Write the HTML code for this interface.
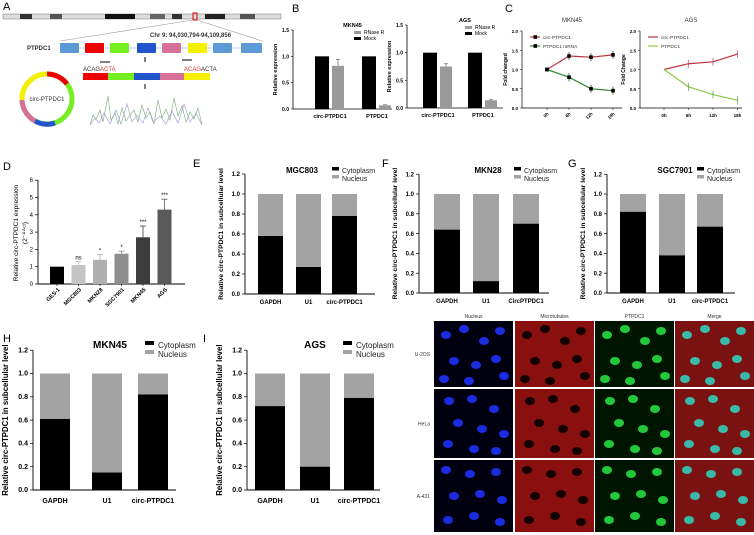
<!DOCTYPE html>
<html><head><meta charset="utf-8">
<style>
html,body{margin:0;padding:0;background:#fff}
svg{display:block;font-family:"Liberation Sans",Arial,sans-serif}
</style></head>
<body>
<svg id="fig" width="754" height="535" viewBox="0 0 754 535">
<g id="panelA">
<text x="3" y="10" font-size="11">A</text>
<rect x="3" y="14" width="278" height="5" fill="#ddd" stroke="#777" stroke-width="0.5"/>
<rect x="20" y="14" width="12" height="5" fill="#333"/><rect x="50" y="14" width="12" height="5" fill="#555"/><rect x="105" y="14" width="30" height="5" fill="#111"/><rect x="150" y="14" width="15" height="5" fill="#666"/><rect x="172" y="14" width="10" height="5" fill="#333"/><rect x="205" y="14" width="20" height="5" fill="#222"/><rect x="240" y="14" width="15" height="5" fill="#555"/>
<rect x="193" y="13" width="4" height="7" fill="none" stroke="#d00" stroke-width="1"/>
<line x1="60" y1="41" x2="193" y2="20" stroke="#999" stroke-width="0.6"/><line x1="262" y1="41" x2="197" y2="20" stroke="#999" stroke-width="0.6"/>
<text x="150" y="37" font-size="6" font-weight="bold" fill="#333">Chr 9: 94,030,794-94,109,856</text>
<text x="27" y="50" font-size="6" font-weight="bold" fill="#333">PTPDC1</text>
<line x1="60" y1="48" x2="262" y2="48" stroke="#6af" stroke-width="0.6"/>
<rect x="60" y="43" width="19" height="10" fill="#5b9bd5" rx="1"/><rect x="85" y="43" width="19" height="10" fill="#e00" rx="1"/><rect x="110" y="43" width="19" height="10" fill="#7e2" rx="1"/><rect x="137" y="43" width="19" height="10" fill="#2255cc" rx="1"/><rect x="162" y="43" width="19" height="10" fill="#d6709a" rx="1"/><rect x="188" y="43" width="19" height="10" fill="#f5ef00" rx="1"/><rect x="213" y="43" width="19" height="10" fill="#5b9bd5" rx="1"/><rect x="241" y="43" width="21" height="10" fill="#5b9bd5" rx="1"/>
<text x="83" y="71" font-size="6" fill="#333">ACAG<tspan fill="#d33">ACTA</tspan></text>
<text x="184" y="71" font-size="6" fill="#d33">ACAG<tspan fill="#333">ACTA</tspan></text>
<rect x="83" y="73" width="25" height="7" fill="#e00"/><rect x="108" y="73" width="26" height="7" fill="#7e2"/><rect x="134" y="73" width="26" height="7" fill="#2255cc"/><rect x="160" y="73" width="24" height="7" fill="#d6709a"/><rect x="184" y="73" width="26" height="7" fill="#f5ef00"/>
<line x1="100" y1="62" x2="110" y2="62" stroke="#000"/><line x1="182" y1="60" x2="192" y2="60" stroke="#000"/><line x1="145" y1="57" x2="145" y2="62" stroke="#000"/><line x1="145" y1="84" x2="145" y2="89" stroke="#000"/>
<circle cx="47" cy="99" r="25" fill="none" stroke="#7e2" stroke-width="5"/>
<path d="M 47 74 A 25 25 0 0 1 67 84" fill="none" stroke="#e00" stroke-width="5"/>
<path d="M 55 123 A 25 25 0 0 1 35 121" fill="none" stroke="#2255cc" stroke-width="5"/>
<path d="M 35 121 A 25 25 0 0 1 22 100" fill="none" stroke="#d6709a" stroke-width="5"/>
<path d="M 22 100 A 25 25 0 0 1 47 74" fill="none" stroke="#f5ef00" stroke-width="5"/>
<text x="47" y="101" font-size="6" text-anchor="middle" fill="#333">circ-PTPDC1</text>
<polyline points="90,125 93,115 96,120 100,110 103,122 108,96 111,120 115,113 118,124 122,108 126,121 130,115 134,110 138,122 142,105 146,118 150,112 154,124 158,100 162,118 166,109 170,120 174,98 178,116 182,106 186,122 190,112 194,119 198,108 202,125" fill="none" stroke="#7a7" stroke-width="0.6"/>
<polyline points="90,125 95,118 99,123 104,113 110,124 116,110 121,124 127,104 132,122 137,115 143,123 148,108 153,122 160,116 166,124 172,111 178,123 184,104 190,122 196,113 202,125" fill="none" stroke="#99c" stroke-width="0.6"/>
</g>
<g id="plots"></g>
<g id="micro"></g>
</svg>
<script>
// ---------- data ----------
const bCategories = ["circ-PTPDC1", "PTPDC1"];
const bMknMock = [1, 1];
const bMknRnase = [0.82, 0.07];
const bMknRnaseErr = [0.12, 0.01];
const bAgsMock = [1, 1];
const bAgsRnase = [0.75, 0.14];
const bAgsRnaseErr = [0.05, 0.01];
const cTimes = ["0h", "6h", "12h", "18h"];
const cMknCirc = [1, 1.35, 1.32, 1.38];
const cMknMrna = [1, 0.8, 0.5, 0.45];
const cAgsCirc = [1, 1.15, 1.2, 1.4];
const cAgsLinear = [1, 0.55, 0.35, 0.2];
const dCategories = ["GES-1", "MGC803", "MKN28", "SGC7901", "MKN45", "AGS"];
const dValues = [1, 1.1, 1.4, 1.75, 2.7, 4.3];
const dErrors = [0, 0.2, 0.3, 0.15, 0.65, 0.6];
const dSignif = ["", "ns", "*", "*", "***", "***"];
const subCats = ["GAPDH", "U1", "circ-PTPDC1"];
const subCatsF = ["GAPDH", "U1", "CircPTPDC1"];
const eCyto = [0.58, 0.27, 0.78];
const fCyto = [0.64, 0.12, 0.70];
const gCyto = [0.82, 0.38, 0.67];
const hCyto = [0.61, 0.15, 0.82];
const iCyto = [0.72, 0.20, 0.79];
const stackTicks = ["0.0", "0.2", "0.4", "0.6", "0.8", "1.0", "1.2"];

const NS = "http://www.w3.org/2000/svg";
const root = document.getElementById("plots");
function mk(tag, attrs, parent, txt) {
  const e = document.createElementNS(NS, tag);
  for (const k in attrs) e.setAttribute(k, attrs[k]);
  if (txt !== undefined) e.textContent = txt;
  (parent || root).appendChild(e);
  return e;
}
function lbl(x, y, t) {
  const e = mk("text", {x: x, y: y, "font-size": 11}, root, t);
  
  
}

// ---------- B ----------
function panelB(ax, x0, x1, y0, y1, mock, rn, err, title, xs) {
  const g = mk("g", {});
  
  
  const ys = v => y0 - (y0 - y1) * v / 1.5;
  mk("line", {x1: ax, y1: y1, x2: ax, y2: y0, stroke: "#000", "stroke-width": 0.8}, g);
  mk("line", {x1: ax, y1: y0, x2: x1, y2: y0, stroke: "#000", "stroke-width": 0.8}, g);
  ["0.0", "0.5", "1.0", "1.5"].forEach((t, i) => {
    const y = ys(i * 0.5);
    mk("line", {x1: ax - 2, y1: y, x2: ax, y2: y, stroke: "#000", "stroke-width": 0.6}, g);
    mk("text", {x: ax - 4, y: y + 2, "font-size": 5, "text-anchor": "end", "font-weight": "bold"}, g, t);
  });
  const yl = mk("text", {x: 0, y: 0, "font-size": 5.5, "font-weight": "bold", "text-anchor": "middle", transform: `translate(${ax - 16},${(y0 + y1) / 2}) rotate(-90)`}, g, "Relative expression");
  mk("text", {x: (ax + x1) / 2 + 10, y: y1 - 3, "font-size": 5.5, "font-weight": "bold", "text-anchor": "middle"}, g, title);
  bCategories.forEach((c, i) => {
    const bx = xs[i];
    const r1 = mk("rect", {x: bx, y: ys(mock[i]), width: 14, height: y0 - ys(mock[i]), fill: "#000"}, g);
    
    
    const r2 = mk("rect", {x: bx + 17, y: ys(rn[i]), width: 12, height: y0 - ys(rn[i]), fill: "#9a9a9a"}, g);
    
    
    mk("line", {x1: bx + 23, y1: ys(rn[i] + err[i]), x2: bx + 23, y2: ys(rn[i]), stroke: "#777", "stroke-width": 0.8}, g);
    mk("line", {x1: bx + 21, y1: ys(rn[i] + err[i]), x2: bx + 25, y2: ys(rn[i] + err[i]), stroke: "#777", "stroke-width": 0.8}, g);
    mk("text", {x: bx + 15, y: y0 + 9, "font-size": 5.5, "font-weight": "bold", "text-anchor": "middle"}, g, c);
  });
  const lx = x1 - 28;
  mk("rect", {x: lx - 10, y: y1 + 1, width: 7, height: 3, fill: "#9a9a9a"}, g);
  mk("text", {x: lx, y: y1 + 4, "font-size": 5}, g, "RNase R");
  mk("rect", {x: lx - 10, y: y1 + 7, width: 7, height: 3, fill: "#000"}, g);
  mk("text", {x: lx, y: y1 + 10, "font-size": 5}, g, "Mock");
}
lbl(292, 12, "B");
panelB(293, 293, 392, 109, 30, bMknMock, bMknRnase, bMknRnaseErr, "MKN45", [315, 362]);
panelB(407, 407, 503, 108, 25, bAgsMock, bAgsRnase, bAgsRnaseErr, "AGS", [423, 468]);

// ---------- C ----------
function panelC(ax, xr, y0, y1, xs, s1, s2, title, n1, n2, ylab, rot, markers) {
  const g = mk("g", {});
  
  
  const ys = v => y0 - (y0 - y1) * v / 2;
  const xp = i => xs[0] + (xs[1] - xs[0]) * i;
  mk("line", {x1: ax, y1: y1, x2: ax, y2: y0, stroke: "#000", "stroke-width": 0.7}, g);
  mk("line", {x1: ax, y1: y0, x2: xr, y2: y0, stroke: "#000", "stroke-width": 0.7}, g);
  ["0.0", "0.5", "1.0", "1.5", "2.0"].forEach((t, i) => {
    const y = ys(i * 0.5);
    mk("line", {x1: ax - 2, y1: y, x2: ax, y2: y, stroke: "#000", "stroke-width": 0.5}, g);
    mk("text", {x: ax - 4, y: y + 2, "font-size": 4.5, "text-anchor": "end", "font-weight": "bold"}, g, t);
  });
  mk("text", {x: 0, y: 0, "font-size": 5, "font-weight": "bold", "text-anchor": "middle", transform: `translate(${ax - 15},${(y0 + y1) / 2}) rotate(-90)`}, g, ylab);
  mk("text", {x: (ax + xr) / 2, y: 22, "font-size": 6, "text-anchor": "middle", fill: "#333"}, g, title);
  cTimes.forEach((t, i) => {
    const x = xp(i);
    mk("line", {x1: x, y1: y0, x2: x, y2: y0 + 2, stroke: "#000", "stroke-width": 0.5}, g);
    if (rot) mk("text", {x: 0, y: 0, "font-size": 4.5, "font-weight": "bold", "text-anchor": "end", transform: `translate(${x + 2},${y0 + 6}) rotate(-45)`}, g, t);
    else mk("text", {x: x, y: y0 + 9, "font-size": 4.5, "font-weight": "bold", "text-anchor": "middle"}, g, t);
  });
  [[s1, "#c0303a", n1], [s2, "#2e8b2e", n2]].forEach((s, k) => {
    const pts = s[0].map((v, i) => xp(i) + "," + ys(v)).join(" ");
    const pl = mk("polyline", {points: pts, fill: "none", stroke: k === 1 && !markers ? "#8c4" : s[1], "stroke-width": 1.2}, g);
    
    
    s[0].forEach((v, i) => {
      if (markers) mk("rect", {x: xp(i) - 1.8, y: ys(v) - 1.8, width: 3.6, height: 3.6, fill: "#000"}, g);
      if (i > 0) mk("line", {x1: xp(i), y1: ys(v) - 4, x2: xp(i), y2: ys(v) + 4, stroke: markers ? "#000" : s[1], "stroke-width": 0.6}, g);
    });
    const ly = y1 + 6 + k * 9;
    mk("line", {x1: ax + 8, y1: ly, x2: ax + 18, y2: ly, stroke: k === 1 && !markers ? "#8c4" : s[1], "stroke-width": 1.2}, g);
    if (markers) mk("rect", {x: ax + 11.5, y: ly - 1.8, width: 3.6, height: 3.6, fill: "#000"}, g);
    mk("text", {x: ax + 21, y: ly + 2, "font-size": 4.8, fill: "#333"}, g, s[2]);
  });
}
lbl(505, 12, "C");
panelC(522, 622, 108, 31, [547, 569], cMknCirc, cMknMrna, "MKN45", "circ-PTPDC1", "PTPDC1 mRNA", "Fold changed", true, true);
panelC(640, 742, 108, 31, [664, 688.5], cAgsCirc, cAgsLinear, "AGS", "circ-PTPDC1", "PTPDC1", "Fold Change", false, false);

// ---------- D ----------
(function () {
  lbl(3, 170, "D");
  const g = mk("g", {});
  
  
  const ax = 38, y0 = 284, per = 17.3, xr = 185;
  const ys = v => y0 - per * v;
  const cols = ["#000", "#c4c4c4", "#b0b0b0", "#8e8e8e", "#3c3c3c", "#5a5a5a"];
  mk("line", {x1: ax, y1: ys(6), x2: ax, y2: y0, stroke: "#000", "stroke-width": 0.9}, g);
  mk("line", {x1: ax, y1: y0, x2: xr, y2: y0, stroke: "#000", "stroke-width": 0.9}, g);
  for (let t = 0; t <= 6; t++) {
    mk("line", {x1: ax - 3, y1: ys(t), x2: ax, y2: ys(t), stroke: "#000", "stroke-width": 0.7}, g);
    mk("text", {x: ax - 5, y: ys(t) + 2, "font-size": 6, "text-anchor": "end"}, g, String(t));
  }
  const yl = mk("text", {x: 0, y: 0, "font-size": 6.5, "text-anchor": "middle", transform: `translate(18,233) rotate(-90)`}, g, "Relative circ-PTPDC1 expression");
  mk("text", {x: 0, y: 0, "font-size": 6.5, "text-anchor": "middle", transform: `translate(27,233) rotate(-90)`}, g, "(2⁻ᐞᐞᶜᵗ)");
  const step = 21.5, bw = 14;
  dCategories.forEach((c, i) => {
    const cx = 57 + i * step;
    const r = mk("rect", {x: cx - bw / 2, y: ys(dValues[i]), width: bw, height: per * dValues[i], fill: cols[i]}, g);
    
    
    if (dErrors[i] > 0) {
      const yt = ys(dValues[i] + dErrors[i]);
      mk("line", {x1: cx, y1: yt, x2: cx, y2: ys(dValues[i]), stroke: cols[i], "stroke-width": 0.8}, g);
      mk("line", {x1: cx - 3, y1: yt, x2: cx + 3, y2: yt, stroke: cols[i], "stroke-width": 0.8}, g);
      mk("text", {x: cx, y: yt - 2, "font-size": 6, "text-anchor": "middle"}, g, dSignif[i]);
    }
    mk("line", {x1: cx, y1: y0, x2: cx, y2: y0 + 2, stroke: "#000", "stroke-width": 0.6}, g);
    mk("text", {x: 0, y: 0, "font-size": 5.5, "font-weight": "bold", "text-anchor": "end", transform: `translate(${cx + 3},${y0 + 6}) rotate(-45)`}, g, c);
  });
})();

// ---------- stacked ----------
function stacked(name, ax, y0, y10, xr, bars, bw, cyto, cats, title, tx, lx, ty, big) {
  const g = mk("g", {});
  
  
  const per = (y0 - y10);
  const ys = v => y0 - per * v;
  const fs = big ? 7 : 6;
  mk("line", {x1: ax, y1: ys(1.2), x2: ax, y2: y0, stroke: "#000", "stroke-width": 0.9}, g);
  mk("line", {x1: ax, y1: y0, x2: xr, y2: y0, stroke: "#000", "stroke-width": 0.9}, g);
  stackTicks.forEach((t, i) => {
    const y = ys(i * 0.2);
    mk("line", {x1: ax - 3, y1: y, x2: ax, y2: y, stroke: "#000", "stroke-width": 0.7}, g);
    mk("text", {x: ax - 5, y: y + 2.2, "font-size": fs, "font-weight": "bold", "text-anchor": "end"}, g, t);
  });
  mk("text", {x: 0, y: 0, "font-size": big ? 7.8 : 6.8, "font-weight": "bold", "text-anchor": "middle", transform: `translate(${ax - (big ? 25 : 22)},${ys(0.6)}) rotate(-90)`}, g, "Relative circ-PTPDC1 in subcellular level");
  cats.forEach((c, i) => {
    const bx = bars[i];
    const r1 = mk("rect", {x: bx, y: ys(1), width: bw, height: per * (1 - cyto[i]), fill: "#a3a3a3"}, g);
    
    
    const r2 = mk("rect", {x: bx, y: ys(cyto[i]), width: bw, height: per * cyto[i], fill: "#000"}, g);
    
    
    mk("text", {x: bx + bw / 2, y: y0 + (big ? 13 : 10), "font-size": fs, "font-weight": "bold", "text-anchor": "middle"}, g, c);
  });
  mk("text", {x: tx, y: ty, "font-size": big ? 10 : 8, "font-weight": "bold", "text-anchor": "middle"}, g, title);
  const ls = big ? 8 : 7;
  mk("rect", {x: lx, y: ty - ls + 1, width: big ? 9 : 7, height: big ? 4 : 3.5, fill: "#000"}, g);
  mk("text", {x: lx + (big ? 13 : 10), y: ty, "font-size": ls, fill: "#222"}, g, "Cytoplasm");
  mk("rect", {x: lx, y: ty + 2, width: big ? 9 : 7, height: big ? 4 : 3.5, fill: "#a3a3a3"}, g);
  mk("text", {x: lx + (big ? 13 : 10), y: ty + ls + 1, "font-size": ls, fill: "#222"}, g, "Nucleus");
}
lbl(193, 167, "E"); lbl(382, 167, "F"); lbl(568, 167, "G");
lbl(3, 342, "H"); lbl(203, 342, "I");
stacked("mgc803", 245, 294, 194, 375, [258, 296, 332], 25, eCyto, subCats, "MGC803", 302, 332, 173, false);
stacked("mkn28", 419, 293, 194, 549, [434, 473, 513], 26, fCyto, subCatsF, "MKN28", 488, 514, 173, false);
stacked("sgc7901", 607, 293, 194, 735, [620, 659, 697], 26, gCyto, subCats, "SGC7901", 675, 697, 173, false);
stacked("mkn45", 33, 490, 373.5, 176, [40, 92, 138], 30, hCyto, subCats, "MKN45", 110, 145, 348, true);
stacked("ags", 247, 490, 373.5, 380, [255, 300, 344], 30, iCyto, subCats, "AGS", 315, 343, 348, true);

// ---------- microscopy ----------
(function () {
  const m = document.getElementById("micro");
  const colsX = [434, 515, 595, 675], w = 79;
  const rowsY = [321, 389, 460], hs = [66, 69, 72];
  const heads = ["Nucleus", "Microtubules", "PTPDC1", "Merge"];
  const rows = ["U-2OS", "HeLa", "A-431"];
  heads.forEach((h, i) => mk("text", {x: colsX[i] + w / 2, y: 318, "font-size": 5, "text-anchor": "middle", fill: "#333"}, m, h));
  const bg = ["#000010", "#8a1010", "#001500", "#7a1212"];
  const nuc = ["#1a2be0", "#140000", "#22c83a", "#3ab8a8"];
  const pts = [[[12, 14], [30, 8], [50, 20], [66, 10], [20, 40], [42, 44], [62, 38], [10, 58], [35, 60], [70, 55]],
               [[15, 12], [38, 10], [60, 20], [24, 34], [48, 40], [70, 45], [14, 55], [40, 60], [62, 62]],
               [[12, 10], [36, 14], [62, 12], [20, 36], [46, 34], [68, 40], [14, 60], [40, 56], [66, 62]]];
  rows.forEach((r, ri) => {
    mk("text", {x: 430, y: rowsY[ri] + hs[ri] / 2 + 2, "font-size": 5, "text-anchor": "end", fill: "#333"}, m, r);
    colsX.forEach((cx, ci) => {
      const cell = mk("g", {}, m);
      
      
      mk("rect", {x: cx, y: rowsY[ri], width: w, height: hs[ri], fill: bg[ci]}, cell);
      pts[ri].forEach(p => {
        if (p[1] < hs[ri] - 3) mk("ellipse", {cx: cx + p[0], cy: rowsY[ri] + p[1], rx: 5, ry: 4, fill: nuc[ci]}, cell);
      });
    });
  });
})();
</script>
</body></html>
